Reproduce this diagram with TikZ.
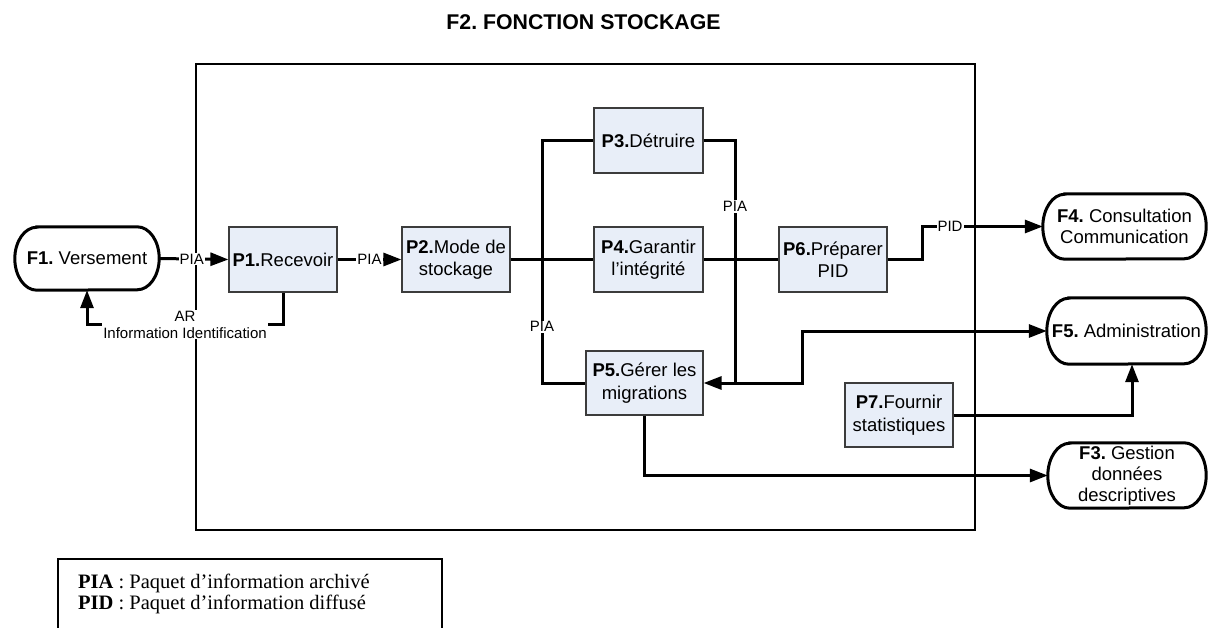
\documentclass[tikz,border=0pt]{standalone}
\usepackage{fontspec}
\setmainfont{Liberation Sans}
\newfontfamily\legfont{Liberation Serif}
\usetikzlibrary{arrows.meta,calc}
\definecolor{boxfill}{RGB}{232,238,248}
\definecolor{boxline}{RGB}{60,60,60}
\newcommand\termoutline[2]{%
  \draw[line width=3pt, fill=white] ([xshift=22pt]#1.north west) -- ([xshift=-22pt]#1.north east)
    arc[start angle=90, end angle=-90, x radius=22pt, y radius=#2]
    -- ([xshift=22pt]#1.south west)
    arc[start angle=270, end angle=90, x radius=22pt, y radius=#2] -- cycle;}
\frenchspacing
\begin{document}
\begin{tikzpicture}[x=1pt, y=-1pt,
  proc/.style={draw=boxline, line width=1.2pt, fill=boxfill, minimum width=108pt,
    minimum height=65pt, inner sep=0pt, align=center, font=\fontsize{18.5}{22.5}\selectfont},
  term/.style={minimum height=64pt, inner sep=0pt, align=center,
    font=\fontsize{18.5}{21.5}\selectfont},
  conn/.style={line width=3pt},
  lab/.style={fill=white, inner sep=1pt, font=\fontsize{15}{17}\selectfont},
  >={Triangle[length=18pt, width=13pt]}]
\clip (0,0) rectangle (1208,627);
\fill[white] (0,0) rectangle (1208,627);

% title
\node[font=\bfseries\fontsize{21.3}{25}\selectfont] (title) at (583.5,22) {F2. FONCTION STOCKAGE};

% big frame
\draw[line width=2.6pt] (196,64) rectangle (975,530);

% external terminators (outline drawn around named nodes)
\node[term, minimum width=144pt, minimum height=63pt] (F1) at (87,258.5) {};
\node[term, minimum width=163pt, minimum height=65pt] (F4) at (1124.5,226.5) {};
\node[term, minimum width=159pt, minimum height=66pt] (F5) at (1126.5,331) {};
\node[term, minimum width=158pt, minimum height=65pt] (F3) at (1127,475.5) {};
\termoutline{F1}{31.5pt}
\termoutline{F4}{32.5pt}
\termoutline{F5}{33pt}
\termoutline{F3}{32.5pt}
\node[term] (F1t) at (F1) {\textbf{F1.} Versement};
\node[term] (F4t) at (F4) {\textbf{F4.} Consultation\\Communication};
\node[term] (F5t) at (F5) {\textbf{F5.} Administration};
\node[term, font=\fontsize{18.5}{21}\selectfont] (F3t) at (F3) {\textbf{F3.} Gestion\\données\\descriptives};

% processes
\node[proc] (P1) at (283,259.5) {\textbf{P1.}Recevoir};
\node[proc] (P2) at (456,259.5) {\textbf{P2.}Mode de\\stockage};
\node[proc, minimum width=109pt] (P3) at (648.5,140.5) {\textbf{P3.}Détruire};
\node[proc, minimum width=109pt] (P4) at (648.5,259.5) {\textbf{P4.}Garantir\\l’intégrité};
\node[proc, minimum width=117pt, minimum height=64pt] (P5) at (644.5,383) {\textbf{P5.}Gérer les\\migrations};
\node[proc] (P6) at (833,259.5) {\textbf{P6.}Préparer\\PID};
\node[proc, minimum height=64pt] (P7) at (899,415) {\textbf{P7.}Fournir\\statistiques};

% junction columns
\coordinate (jl) at (542,0);
\coordinate (jr) at (735,0);
\coordinate (jm) at (802,0);
\coordinate (jp) at (922,0);

% connectors
\draw[conn,->] (F1.east) -- node[lab, pos=0.47] {PIA} (P1.west);
\draw[conn,->] (P1.east) -- node[lab, pos=0.5] {PIA} (P2.west);
\draw[conn,->] (P1.south) -- ++(0,32) -| node[lab, pos=0.25, align=center] {AR\\Information Identification} (F1.south);
\draw[conn] (P2.east) -- (P4.west);
\draw[conn] (P3.west) -| node[lab, pos=0.884] {PIA} (jl |- P5.west) -- (P5.west);
\draw[conn] (P3.east) -| node[lab, pos=0.636] {PIA} (jr |- P5.east);
\draw[conn] (P4.east) -- (P6.west);
\draw[conn,->] (P6.east) -- (jp |- P6.east) |- node[lab, pos=0.616] {PID} (F4.west);
\draw[conn,<->] (P5.east) -- (jm |- P5.east) |- (F5.west);
\draw[conn,->] (P7.east) -| ([xshift=5.5pt]F5.south);
\draw[conn,->] (P5.south) |- (F3.west);

% legend
\draw[line width=1.8pt] (58,559) rectangle (442,650);
\node[anchor=west, align=left, inner sep=0pt, font=\legfont\fontsize{20.5}{21}\selectfont] (legend) at (78,593.5)
  {\textbf{PIA} : Paquet d’information archivé\\\textbf{PID} : Paquet d’information diffusé};
\end{tikzpicture}
\end{document}
